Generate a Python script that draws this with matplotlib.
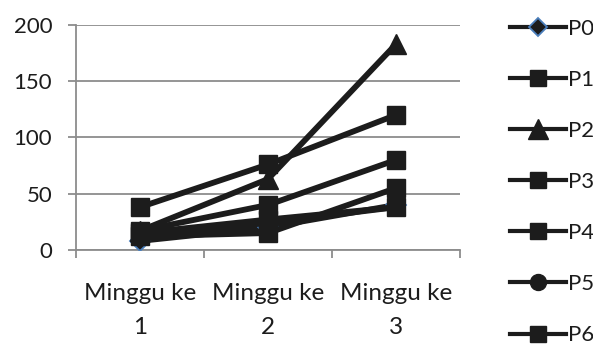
import matplotlib
matplotlib.use("Agg")
import matplotlib.pyplot as plt

categories = ["Minggu ke\n1", "Minggu ke\n2", "Minggu ke\n3"]
series_names = ["P0", "P1", "P2", "P3", "P4", "P5", "P6"]
p0 = [8, 20, 40]
p1 = [38, 76, 120]
p2 = [17, 63, 183]
p3 = [17, 40, 80]
p4 = [15, 27, 38]
p5 = [13, 24, 38]
p6 = [12, 15, 55]
series_values = [p0, p1, p2, p3, p4, p5, p6]
markers = ["D", "s", "^", "s", "s", "o", "s"]
marker_sizes = [10, 12.5, 15, 12.5, 12.5, 12.5, 12.5]
y_ticks = [0, 50, 100, 150, 200]

plt.rcParams["font.family"] = ["Lato", "DejaVu Sans"]

fig = plt.figure(figsize=(5.93, 3.51), dpi=100)
ax = fig.add_axes([0.128, 0.288, 0.648, 0.641])

ink = "#1c1c1c"
x = list(range(len(categories)))
for name, vals, mk, ms in zip(series_names, series_values, markers, marker_sizes):
    if mk == "D":
        ax.plot(x, vals, color=ink, lw=4.2, marker=mk, ms=ms,
                mfc=ink, mec="#4a7ebb", mew=1.3, label=name, zorder=3)
    else:
        ax.plot(x, vals, color=ink, lw=4.2, marker=mk, ms=ms,
                mfc=ink, mec=ink, label=name, zorder=3)

ax.set_ylim(0, 200)
ax.set_xlim(-0.5, 2.5)
ax.set_yticks(y_ticks)
ax.set_xticks(x)
ax.set_xticklabels(categories, linespacing=1.75)
ax.set_xticks([-0.5, 0.5, 1.5, 2.5], minor=True)

grid_col = "#8c8c8c"
ax.yaxis.grid(True, color=grid_col, lw=1.3)
ax.set_axisbelow(True)
for s in ["top", "right"]:
    ax.spines[s].set_visible(False)
for s in ["left", "bottom"]:
    ax.spines[s].set_color(grid_col)
    ax.spines[s].set_linewidth(1.3)

ax.tick_params(axis="y", length=6, width=1.3, color=grid_col,
               labelsize=16, labelcolor=ink, pad=11)
ax.tick_params(axis="x", which="major", length=0, labelsize=17.5,
               labelcolor=ink, pad=24)
ax.tick_params(axis="x", which="minor", length=6, width=1.3, color=grid_col)

handles, labels = ax.get_legend_handles_labels()
leg = fig.legend(handles, labels, loc="upper left",
                 bbox_to_anchor=(0.845, 0.972), frameon=False,
                 fontsize=16, handlelength=2.5, handletextpad=0.1,
                 labelspacing=1.40, markerscale=0.92, borderaxespad=0)
for t in leg.get_texts():
    t.set_color(ink)
for h in leg.legend_handles:
    h.set_linewidth(3.0)

fig.savefig("out.png", dpi=100)
